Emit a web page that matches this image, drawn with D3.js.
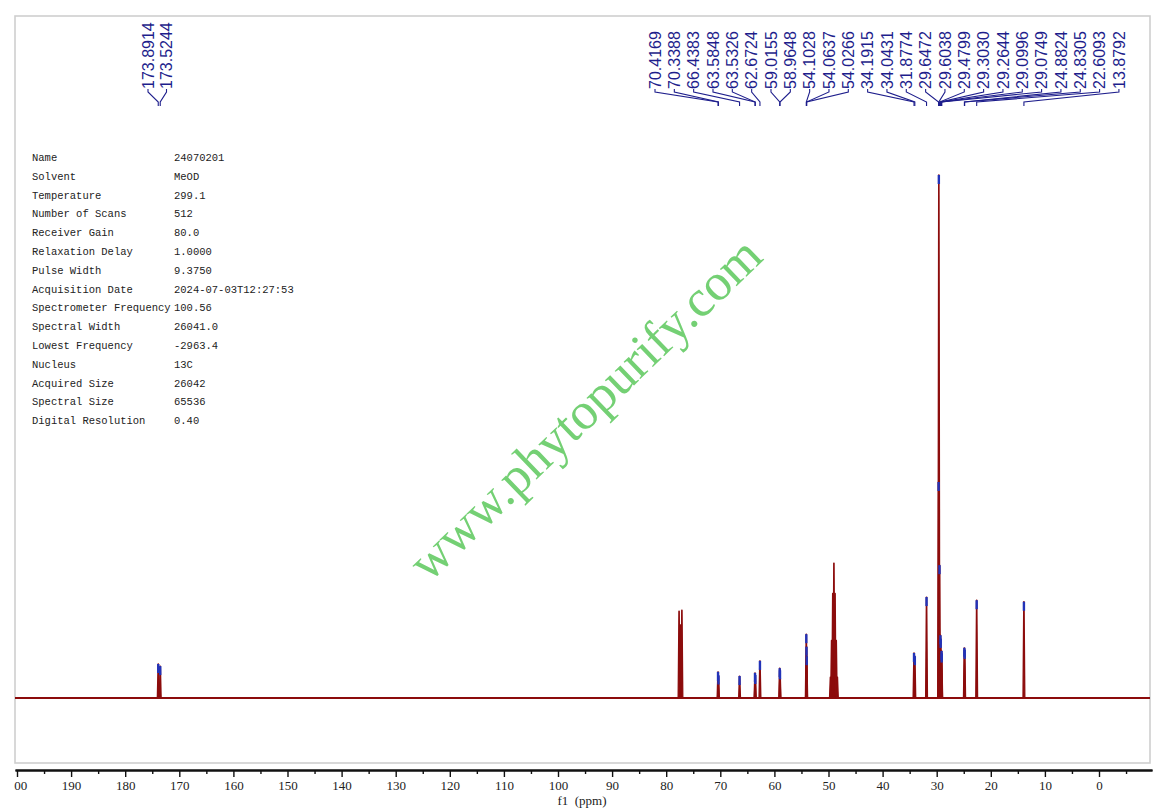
<!DOCTYPE html>
<html><head><meta charset="utf-8">
<script src="https://cdn.jsdelivr.net/npm/d3@7"></script>
<style>html,body{margin:0;padding:0;background:#fff;} svg{display:block}</style>
</head><body>
<svg id="c" width="1159" height="812"></svg>
<script>
// ---------- data ----------
const paramNames = ["Name","Solvent","Temperature","Number of Scans","Receiver Gain","Relaxation Delay","Pulse Width","Acquisition Date","Spectrometer Frequency","Spectral Width","Lowest Frequency","Nucleus","Acquired Size","Spectral Size","Digital Resolution"];
const paramValues = ["24070201","MeOD","299.1","512","80.0","1.0000","9.3750","2024-07-03T12:27:53","100.56","26041.0","-2963.4","13C","26042","65536","0.40"];

const leftLabels = ["173.8914","173.5244"];
const leftHeights = [6.5, 6.1];
const rightLabels = ["70.4169","70.3388","66.4383","63.5848","63.5326","62.6724","59.0155","58.9648","54.1028","54.0637","54.0266","34.1915","34.0431","31.8774","29.6472","29.6038","29.4799","29.3030","29.2644","29.0996","29.0749","24.8824","24.8305","22.6093","13.8792"];
const rightHeights = [5.0,4.3,4.2,4.8,4.4,7.1,5.7,5.3,12.2,9.8,8.0,8.6,8.0,19.3,41.3,100,25.4,12.0,11.3,9.0,8.5,9.6,9.2,18.7,18.4];

// unlabeled solvent / reference lines
const solventPpm = [77.62,77.36,77.10,49.64,49.43,49.21,49.00,48.79,48.57,48.36];
const solventHeights = [16.6,14.0,16.8,4.0,11.0,20.0,25.8,20.0,11.0,4.0];

const majorTicks = [200,190,180,170,160,150,140,130,120,110,100,90,80,70,60,50,40,30,20,10,0];
const minorTicks = [195,185,175,165,155,145,135,125,115,105,95,85,75,65,55,45,35,25,15,5,-5];

// ---------- drawing ----------
const svg = d3.select("#c");
const x = d3.scaleLinear().domain([200,0]).range([17,1099]);
const y = d3.scaleLinear().domain([0,100]).range([698,175]);

const red = "#8c0c0c", navy = "#1e1e8c", blue = "#2233b8";

// frame
svg.append("rect").attr("x",15).attr("y",16).attr("width",1135).attr("height",747)
  .attr("fill","none").attr("stroke","#cfcfcf").attr("stroke-width",1.6);

svg.append("clipPath").attr("id","plotclip").append("rect")
  .attr("x",15).attr("y",16).attr("width",1135).attr("height",747);
svg.append("clipPath").attr("id","axisclip").append("rect")
  .attr("x",14).attr("y",760).attr("width",1145).attr("height",52);

// watermark
svg.append("text").text("www.phytopurify.com")
  .attr("transform","translate(597,421) rotate(-44)")
  .attr("text-anchor","middle")
  .attr("font-family","'Liberation Serif','Times New Roman',serif")
  .attr("font-size",52).attr("fill","#74d074");

// parameter table
const tbl = svg.append("g").attr("font-family","'Liberation Mono',monospace").attr("font-size",10.5).attr("fill","#222");
paramNames.forEach((n,i)=>{
  tbl.append("text").attr("x",32).attr("y",161+i*18.8).text(n);
  tbl.append("text").attr("x",174).attr("y",161+i*18.8).text(paramValues[i]);
});

// spectrum
const plot = svg.append("g").attr("clip-path","url(#plotclip)");
plot.append("line").attr("x1",15).attr("x2",1150).attr("y1",y(0)).attr("y2",y(0))
  .attr("stroke",red).attr("stroke-width",2.2);

const allPeaks = [];
leftLabels.forEach((l,i)=>allPeaks.push({ppm:+l,h:leftHeights[i],lab:true}));
rightLabels.forEach((l,i)=>allPeaks.push({ppm:+l,h:rightHeights[i],lab:true}));
solventPpm.forEach((p,i)=>allPeaks.push({ppm:p,h:solventHeights[i],lab:false}));

const line = d3.line().x(d=>x(d[0])).y(d=>y(d[1]));
const hw = 0.17;
plot.selectAll("path.pk").data(allPeaks).join("path").attr("class","pk")
  .attr("d",d=>line([[d.ppm+hw,0],[d.ppm+0.03,d.h],[d.ppm-0.03,d.h],[d.ppm-hw,0]]))
  .attr("fill",red).attr("stroke",red).attr("stroke-width",1.3).attr("stroke-linejoin","round");

// peak markers
plot.selectAll("rect.mk").data(allPeaks.filter(d=>d.lab)).join("rect").attr("class","mk")
  .attr("x",d=>x(d.ppm)-1.2).attr("y",d=>y(d.h)).attr("width",2.4).attr("height",9)
  .attr("fill",blue);

// peak labels
function labelGroup(labels, start, step){
  const g = svg.append("g");
  labels.forEach((l,i)=>{
    const lx = start + i*step, px = x(+l);
    g.append("text").attr("transform",`translate(${lx},89) rotate(-90)`)
      .attr("dy","0.35em").attr("font-family","'Liberation Sans',Arial,sans-serif")
      .attr("font-size",16).attr("fill",navy).text(l);
    g.append("path").attr("d",`M${lx},89 L${lx},92 L${px},102 L${px},106`)
      .attr("fill","none").attr("stroke",navy).attr("stroke-width",1.1);
  });
}
labelGroup(leftLabels,148,18.5);
labelGroup(rightLabels,655,19.33);

// axis
const ax = x.copy().domain([x.invert(15),x.invert(1152)]).range([15,1152]);
const axg = svg.append("g").attr("clip-path","url(#axisclip)");
const major = axg.append("g").attr("transform","translate(0,770)")
  .call(d3.axisBottom(ax).tickValues(majorTicks).tickSize(7).tickSizeOuter(0).tickPadding(4).tickFormat(d3.format("d")));
const minor = axg.append("g").attr("transform","translate(0,770)")
  .call(d3.axisBottom(ax).tickValues(minorTicks).tickSize(4).tickSizeOuter(0).tickFormat(""));
[major,minor].forEach(g=>{
  g.select(".domain").attr("stroke","#111").attr("stroke-width",1.8);
  g.selectAll(".tick line").attr("stroke","#111").attr("stroke-width",1.4);
});
major.selectAll(".tick text").attr("font-family","'Liberation Serif','Times New Roman',serif")
  .attr("font-size",13).attr("fill","#222");

svg.append("text").attr("x",582).attr("y",805).attr("text-anchor","middle")
  .attr("font-family","'Liberation Serif','Times New Roman',serif").attr("font-size",13)
  .attr("fill","#222").style("white-space","pre").text("f1  (ppm)");
</script>
</body></html>
